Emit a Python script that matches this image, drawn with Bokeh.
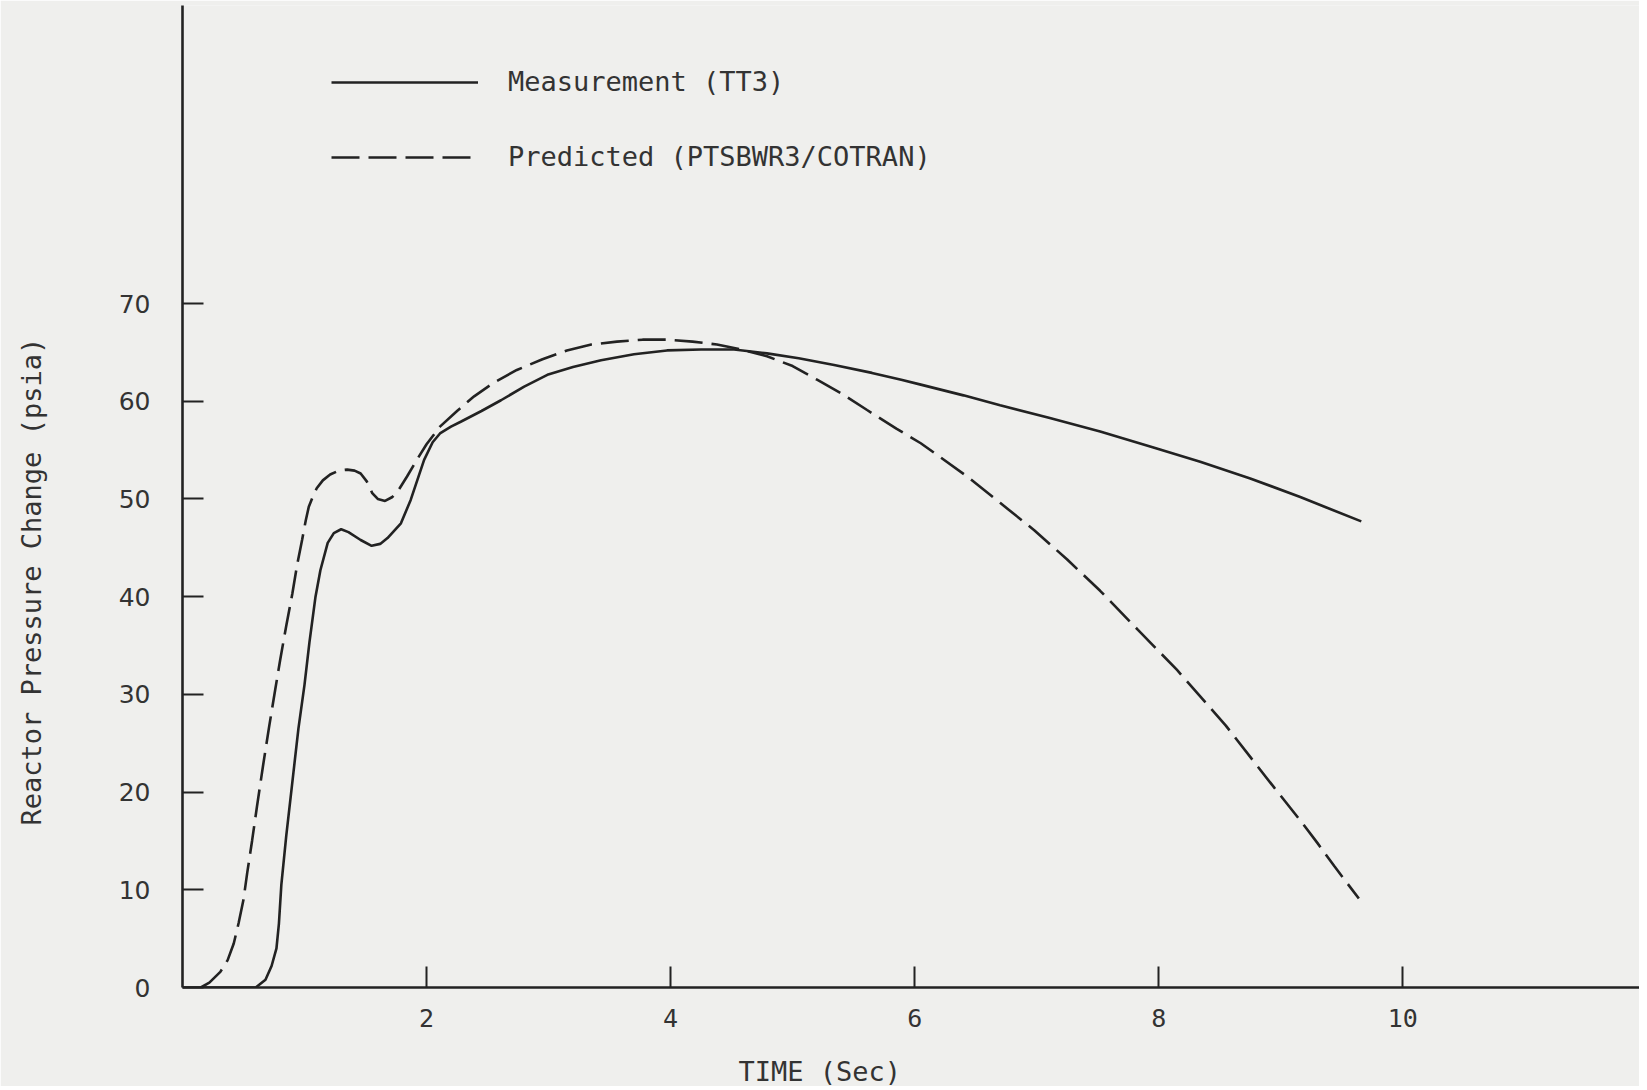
from bokeh.plotting import figure
from bokeh.models import Range1d, FixedTicker, Legend, LegendItem, Title
from bokeh.embed import file_html
from bokeh.resources import INLINE

# ---- data ----
meas_t = [0.00, 0.60, 0.68, 0.73, 0.77, 0.79, 0.81, 0.85, 0.90, 0.95, 1.00, 1.04,
          1.09, 1.13, 1.19, 1.24, 1.30, 1.36, 1.46, 1.55, 1.62, 1.68, 1.79, 1.87,
          1.98, 2.05, 2.11, 2.20, 2.28, 2.45, 2.61, 2.80, 2.99, 3.20, 3.43, 3.70,
          3.97, 4.25, 4.52, 4.79, 5.05, 5.34, 5.65, 5.89, 6.05, 6.40, 6.70, 7.10,
          7.52, 7.95, 8.34, 8.75, 9.16, 9.40, 9.66]
meas_p = [0.0, 0.0, 0.8, 2.2, 4.0, 6.5, 10.5, 15.5, 21.0, 26.5, 31.0, 35.3,
          40.0, 42.7, 45.5, 46.5, 46.9, 46.6, 45.8, 45.2, 45.4, 46.0, 47.5, 49.9,
          54.0, 55.8, 56.7, 57.4, 57.9, 59.0, 60.1, 61.5, 62.7, 63.5, 64.2, 64.8,
          65.2, 65.3, 65.3, 64.9, 64.4, 63.7, 62.9, 62.2, 61.7, 60.6, 59.6, 58.3,
          56.9, 55.3, 53.8, 52.1, 50.2, 49.0, 47.7]

pred_t = [0.15, 0.22, 0.31, 0.37, 0.42, 0.46, 0.50, 0.53, 0.57, 0.61, 0.66, 0.71,
          0.76, 0.80, 0.85, 0.90, 0.94, 0.98, 1.01, 1.035, 1.07, 1.10, 1.15, 1.21,
          1.28, 1.35, 1.41, 1.46, 1.51, 1.555, 1.60, 1.66, 1.72, 1.77, 1.84, 1.92,
          2.00, 2.11, 2.25, 2.39, 2.55, 2.74, 2.95, 3.15, 3.35, 3.56, 3.77, 3.97,
          4.18, 4.38, 4.58, 4.79, 5.00, 5.20, 5.40, 5.61, 5.85, 6.05, 6.43, 6.70,
          6.98, 7.25, 7.52, 7.83, 8.15, 8.34, 8.55, 8.75, 8.95, 9.16, 9.30, 9.44, 9.64]
pred_p = [0.0, 0.5, 1.6, 2.8, 4.5, 6.6, 9.0, 11.7, 15.0, 18.5, 22.7, 26.7,
          30.5, 33.5, 37.0, 40.3, 43.3, 45.8, 47.8, 49.2, 50.3, 51.1, 51.9, 52.5,
          52.9, 53.0, 52.9, 52.6, 51.8, 50.6, 50.0, 49.8, 50.2, 50.9, 52.3, 54.0,
          55.6, 57.4, 59.0, 60.5, 61.9, 63.2, 64.3, 65.2, 65.8, 66.1, 66.3, 66.3,
          66.1, 65.8, 65.3, 64.6, 63.6, 62.2, 60.8, 59.1, 57.2, 55.7, 52.3, 49.6,
          46.8, 43.8, 40.6, 36.6, 32.5, 29.8, 26.8, 23.6, 20.4, 17.1, 14.8, 12.4, 9.1]

x_ticks = [2, 4, 6, 8, 10]
y_ticks = [0, 10, 20, 30, 40, 50, 60, 70]
series_names = ["Measurement (TT3)", "Predicted (PTSBWR3/COTRAN)"]
x_title = "TIME (Sec)"
y_title = "Reactor Pressure Change (psia)"

BG = "#efefed"
INK = "#222222"
TXT = "#333333"
MONO = "DejaVu Sans Mono"

p = figure(width=1639, height=1086,
           x_range=Range1d(0, 11.94), y_range=Range1d(0, 100.5),
           output_backend="svg", toolbar_location=None,
           min_border_left=182, min_border_right=0,
           min_border_top=5, min_border_bottom=99)
p.background_fill_color = BG
p.border_fill_color = BG
p.outline_line_color = None
p.grid.visible = False

for ax in (p.xaxis[0], p.yaxis[0]):
    ax.axis_line_width = 2.6
    ax.axis_line_color = INK
    ax.major_tick_line_width = 2
    ax.major_tick_line_color = INK
    ax.major_tick_in = 21
    ax.major_tick_out = 0
    ax.minor_tick_in = 0
    ax.minor_tick_out = 0
    ax.major_label_text_color = TXT

p.xaxis.ticker = FixedTicker(ticks=x_ticks)
p.xaxis.major_label_standoff = 21
p.xaxis.major_label_text_font = MONO
p.xaxis.major_label_text_font_size = "25px"

p.yaxis.ticker = FixedTicker(ticks=y_ticks)
p.yaxis.major_label_standoff = 32
p.yaxis.major_label_text_font = "DejaVu Sans"
p.yaxis.major_label_text_font_size = "25px"

r1 = p.line(meas_t, meas_p, line_color=INK, line_width=2.6)
r2 = p.line(pred_t, pred_p, line_color=INK, line_width=2.6, line_dash="28 9")

legend = Legend(items=[LegendItem(label=series_names[0], renderers=[r1]),
                       LegendItem(label=series_names[1], renderers=[r2])],
                location=(149, 815), orientation="vertical",
                glyph_width=147, glyph_height=30, label_height=30,
                label_standoff=30, spacing=44, padding=0, margin=0,
                label_text_font=MONO, label_text_font_size="27px",
                label_text_color=TXT,
                background_fill_alpha=0, border_line_alpha=0)
p.add_layout(legend)

# spacers between the axes and their titles
p.add_layout(Title(text=" ", standoff=21, text_font_size="1px",
                   text_font_style="normal"), "below")
p.add_layout(Title(text=" ", standoff=66, text_font_size="1px",
                   text_font_style="normal"), "left")

xt = Title(text=x_title, align="left", offset=556, standoff=0,
           text_font=MONO, text_font_size="27px", text_font_style="normal",
           text_color=TXT)
p.add_layout(xt, "below")

yt = Title(text=y_title, align="left", offset=162, standoff=0,
           text_font=MONO, text_font_size="27px", text_font_style="normal",
           text_color=TXT)
p.add_layout(yt, "left")

open("out.html", "w").write(file_html(p, INLINE))
